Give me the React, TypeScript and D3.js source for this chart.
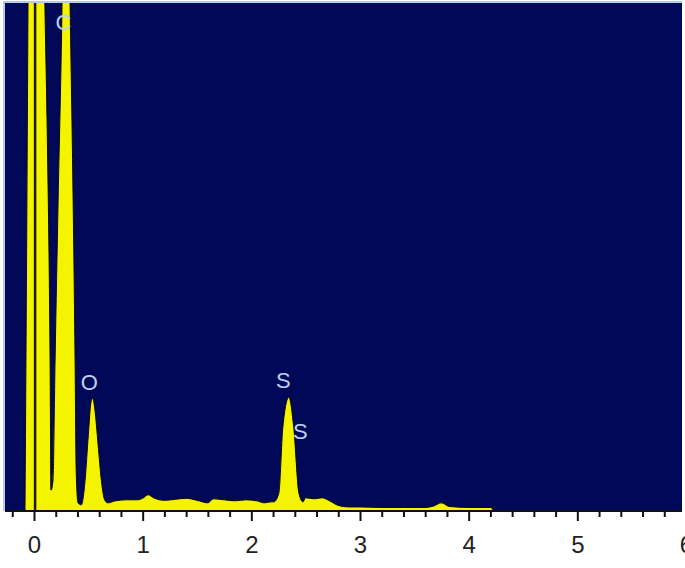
import * as d3 from "d3";
import React, { useRef, useEffect } from "react";

// spectrum (keV vs counts, 1000 = top of plot)
const energy = [
  -0.083, -0.074, -0.065, -0.055, -0.03, 0.07, 0.1, 0.12, 0.148, 0.157,
  0.175, 0.194, 0.222, 0.258, 0.29, 0.332, 0.36, 0.378, 0.388, 0.405,
  0.435, 0.47, 0.5, 0.525, 0.54, 0.56, 0.59, 0.62, 0.65, 0.68,
  0.75, 0.85, 0.95, 1.0, 1.05, 1.1, 1.2, 1.3, 1.4, 1.5,
  1.6, 1.65, 1.75, 1.85, 1.95, 2.05, 2.12, 2.18, 2.207, 2.253,
  2.29, 2.345, 2.39, 2.438, 2.475, 2.5, 2.58, 2.65, 2.72, 2.8,
  2.9, 3.0, 3.2, 3.4, 3.6, 3.68, 3.75, 3.82, 4.0, 4.2, 4.23,
];
const counts = [
  0, 297, 612, 1000, 1500, 1500, 1000, 770, 297, 41,
  61, 297, 612, 1000, 1600, 1000, 612, 297, 81, 16,
  12, 60, 150, 215, 222, 200, 130, 60, 22, 16,
  20, 22, 22, 25, 32, 26, 21, 23, 25, 21,
  16, 24, 22, 20, 22, 20, 16, 18, 18, 35,
  165, 224, 165, 35, 18, 26, 24, 26, 20, 11,
  8, 8, 7, 7, 7, 10, 16, 9, 7, 7, 0,
];

const peakLabels = ["C", "O", "S", "S"];
const peakEnergy = [0.27, 0.51, 2.295, 2.45];
const peakCount = [963, 254, 258, 157];

const majorTicks = [0, 1, 2, 3, 4, 5, 6];

const App = () => {
  const svgRef = useRef<SVGSVGElement>(null);

  useEffect(() => {
    const width = 685;
    const height = 568;
    const plotLeft = 5;
    const plotRight = 682;
    const plotTop = 3;
    const plotBottom = 511;

    const x = d3.scaleLinear().domain([0, 6]).range([34, 686]);
    const y = d3.scaleLinear().domain([0, 1000]).range([plotBottom, plotTop]);

    const svg = d3.select(svgRef.current);
    svg.selectAll("*").remove();
    svg.attr("width", width).attr("height", height);

    svg.append("rect").attr("width", width).attr("height", height).attr("fill", "#fff");

    // frame highlight
    svg.append("rect")
      .attr("x", plotLeft - 2).attr("y", plotTop - 2)
      .attr("width", plotRight - plotLeft + 2).attr("height", plotBottom - plotTop + 2)
      .attr("fill", "#b4cce6");

    svg.append("rect")
      .attr("x", plotLeft).attr("y", plotTop)
      .attr("width", plotRight - plotLeft).attr("height", plotBottom - plotTop)
      .attr("fill", "#020858");

    svg.append("clipPath").attr("id", "plot-clip")
      .append("rect")
      .attr("x", plotLeft).attr("y", plotTop)
      .attr("width", plotRight - plotLeft).attr("height", plotBottom - plotTop);

    const data = energy.map((e, i) => ({ e, c: counts[i] }));

    const area = d3.area<{ e: number; c: number }>()
      .x(d => x(d.e))
      .y0(y(0))
      .y1(d => y(d.c))
      .curve(d3.curveMonotoneX);

    const g = svg.append("g").attr("clip-path", "url(#plot-clip)");

    g.append("path")
      .datum(data)
      .attr("d", area)
      .attr("fill", "#f4f400")
      .attr("stroke", "#0a0a00")
      .attr("stroke-width", 1);

    // zero marker line
    g.append("line")
      .attr("x1", x(0.01)).attr("x2", x(0.01))
      .attr("y1", plotTop).attr("y2", plotBottom)
      .attr("stroke", "#1a1a10")
      .attr("stroke-width", 2.5);

    // element labels
    g.append("g")
      .selectAll("text")
      .data(peakLabels)
      .join("text")
      .attr("x", (d, i) => x(peakEnergy[i]))
      .attr("y", (d, i) => y(peakCount[i]))
      .attr("dy", "0.36em")
      .attr("text-anchor", "middle")
      .attr("font-family", "Liberation Sans, Arial, sans-serif")
      .attr("font-size", 22)
      .attr("fill", "#b8d2f2")
      .text(d => d);

    // axis
    const minorTicks = d3.range(-1, 31).map(i => i * 0.2).filter(v => Math.abs(v - Math.round(v)) > 1e-6);

    svg.append("g")
      .attr("transform", `translate(0,${plotBottom})`)
      .call(d3.axisBottom(x).tickValues(minorTicks).tickSize(6).tickFormat(() => ""))
      .call(g => g.select(".domain").remove())
      .call(g => g.selectAll(".tick line").attr("stroke", "#111").attr("stroke-width", 2));

    svg.append("g")
      .attr("transform", `translate(0,${plotBottom})`)
      .call(d3.axisBottom(x).tickValues(majorTicks).tickSize(10).tickPadding(15).tickFormat(d3.format("d")))
      .call(g => g.select(".domain").remove())
      .call(g => g.selectAll(".tick line").attr("stroke", "#111").attr("stroke-width", 2))
      .call(g => g.selectAll(".tick text")
        .attr("font-family", "Liberation Sans, Arial, sans-serif")
        .attr("font-size", 24)
        .attr("fill", "#222"));

    svg.append("line")
      .attr("x1", plotLeft).attr("x2", plotRight)
      .attr("y1", plotBottom).attr("y2", plotBottom)
      .attr("stroke", "#111")
      .attr("stroke-width", 2);
  }, []);

  return <svg ref={svgRef} style={{ position: "absolute", left: 0, top: 0 }}></svg>;
};

export default App;
